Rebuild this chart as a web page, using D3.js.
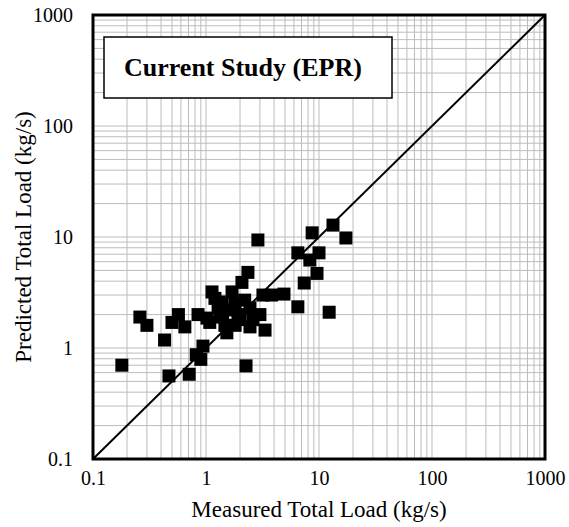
<html>
<script src="https://cdn.jsdelivr.net/npm/d3@7"></script>
<style>
body { margin: 0; background: #fff; }
svg text { font-family: "Liberation Serif", "Times New Roman", serif; }
</style>
<body>
<div id="chart"></div>
<script>
// measured vs predicted total load (kg/s)
var measured = [0.18, 0.26, 0.30, 0.43, 0.47, 0.71, 0.57, 0.50, 0.65, 0.85,
  1.02, 0.82, 0.90, 0.94, 2.26, 1.13, 1.39, 1.70, 2.08, 2.35,
  2.88, 3.19, 3.8, 4.9, 1.33, 1.81, 1.92, 2.45, 3.0, 1.47,
  1.81, 2.45, 3.33, 1.53, 1.28, 6.5, 10.0, 8.3, 9.6, 7.4,
  6.5, 12.3, 8.7, 13.3, 17.3, 2.0, 1.08, 1.2, 1.6, 2.2, 2.6, 1.4];
var predicted = [0.70, 1.90, 1.60, 1.18, 0.56, 0.58, 2.0, 1.7, 1.55, 2.0,
  1.86, 0.87, 0.79, 1.04, 0.69, 3.2, 2.6, 3.2, 3.9, 4.8,
  9.4, 3.0, 3.0, 3.06, 2.1, 2.5, 2.0, 2.3, 2.0, 1.6,
  1.6, 1.55, 1.45, 1.37, 2.3, 7.2, 7.2, 6.2, 4.7, 3.85,
  2.35, 2.1, 10.9, 12.8, 9.8, 1.8, 1.7, 2.8, 2.2, 2.7, 1.8, 1.9];
var tickValues = [0.1, 1, 10, 100, 1000];
var tickLabels = ["0.1", "1", "10", "100", "1000"];
var legendText = "Current Study (EPR)";

var width = 569, height = 527;
var margin = {left: 93, right: 24, top: 15, bottom: 68};
var serif = "'Liberation Serif', 'DejaVu Serif', 'Times New Roman', serif";

var svg = d3.select("#chart").append("svg")
  .attr("width", width).attr("height", height);

var x = d3.scaleLog().domain([0.1, 1000]).range([margin.left, width - margin.right]);
var y = d3.scaleLog().domain([0.1, 1000]).range([height - margin.bottom, margin.top]);

// minor + major grid
var gridVals = [];
for (var e = -1; e < 3; e++) {
  for (var m = 1; m < 10; m++) gridVals.push(m * Math.pow(10, e));
}
gridVals.push(1000);

var grid = svg.append("g").attr("class", "grid");
grid.selectAll("line.gx").data(gridVals).enter().append("line")
  .attr("x1", function(d) { return x(d); }).attr("x2", function(d) { return x(d); })
  .attr("y1", y(0.1)).attr("y2", y(1000))
  .style("stroke", "#bcbcbc").style("stroke-width", 1);
grid.selectAll("line.gy").data(gridVals).enter().append("line")
  .attr("y1", function(d) { return y(d); }).attr("y2", function(d) { return y(d); })
  .attr("x1", x(0.1)).attr("x2", x(1000))
  .style("stroke", "#bcbcbc").style("stroke-width", 1);

// axes (labels only)
var fmt = function(d) { return tickLabels[tickValues.indexOf(d)]; };
var xAxis = svg.append("g")
  .attr("transform", "translate(0," + y(0.1) + ")")
  .call(d3.axisBottom(x).tickValues(tickValues).tickFormat(fmt).tickSize(0).tickPadding(12));
var yAxis = svg.append("g")
  .attr("transform", "translate(" + x(0.1) + ",0)")
  .call(d3.axisLeft(y).tickValues(tickValues).tickFormat(fmt).tickSize(0).tickPadding(20));
[xAxis, yAxis].forEach(function(a) {
  a.select(".domain").remove();
  a.selectAll("text").style("font-size", "20px").style("fill", "#000")
    .style("font-family", serif);
});

// 1:1 line
svg.append("line")
  .attr("x1", x(0.1)).attr("y1", y(0.1))
  .attr("x2", x(1000)).attr("y2", y(1000))
  .style("stroke", "#000").style("stroke-width", 2);

// points
var pts = measured.map(function(d, i) { return {m: d, p: predicted[i]}; });
var sz = 13;
svg.selectAll("rect.pt").data(pts).enter().append("rect")
  .attr("class", "pt")
  .attr("x", function(d) { return x(d.m) - sz / 2; })
  .attr("y", function(d) { return y(d.p) - sz / 2; })
  .attr("width", sz).attr("height", sz)
  .style("fill", "#000");

// frame
svg.append("rect")
  .attr("x", x(0.1)).attr("y", y(1000))
  .attr("width", x(1000) - x(0.1)).attr("height", y(0.1) - y(1000))
  .style("fill", "none").style("stroke", "#000").style("stroke-width", 3);

// legend box
svg.append("rect")
  .attr("x", 104).attr("y", 37).attr("width", 288).attr("height", 61)
  .style("fill", "#fff").style("stroke", "#000").style("stroke-width", 1.5);
svg.append("text")
  .attr("x", 124).attr("y", 76)
  .style("font-family", serif)
  .style("font-size", "26px").style("font-weight", "bold")
  .text(legendText);

// axis titles
svg.append("text")
  .attr("x", (x(0.1) + x(1000)) / 2).attr("y", 517)
  .attr("text-anchor", "middle").style("font-size", "23px").style("font-family", serif)
  .text("Measured Total Load (kg/s)");
svg.append("text")
  .attr("transform", "translate(31," + (y(0.1) + y(1000)) / 2 + ") rotate(-90)")
  .attr("text-anchor", "middle").style("font-size", "23px").style("font-family", serif)
  .text("Predicted Total Load (kg/s)");
</script>
</body>
</html>
